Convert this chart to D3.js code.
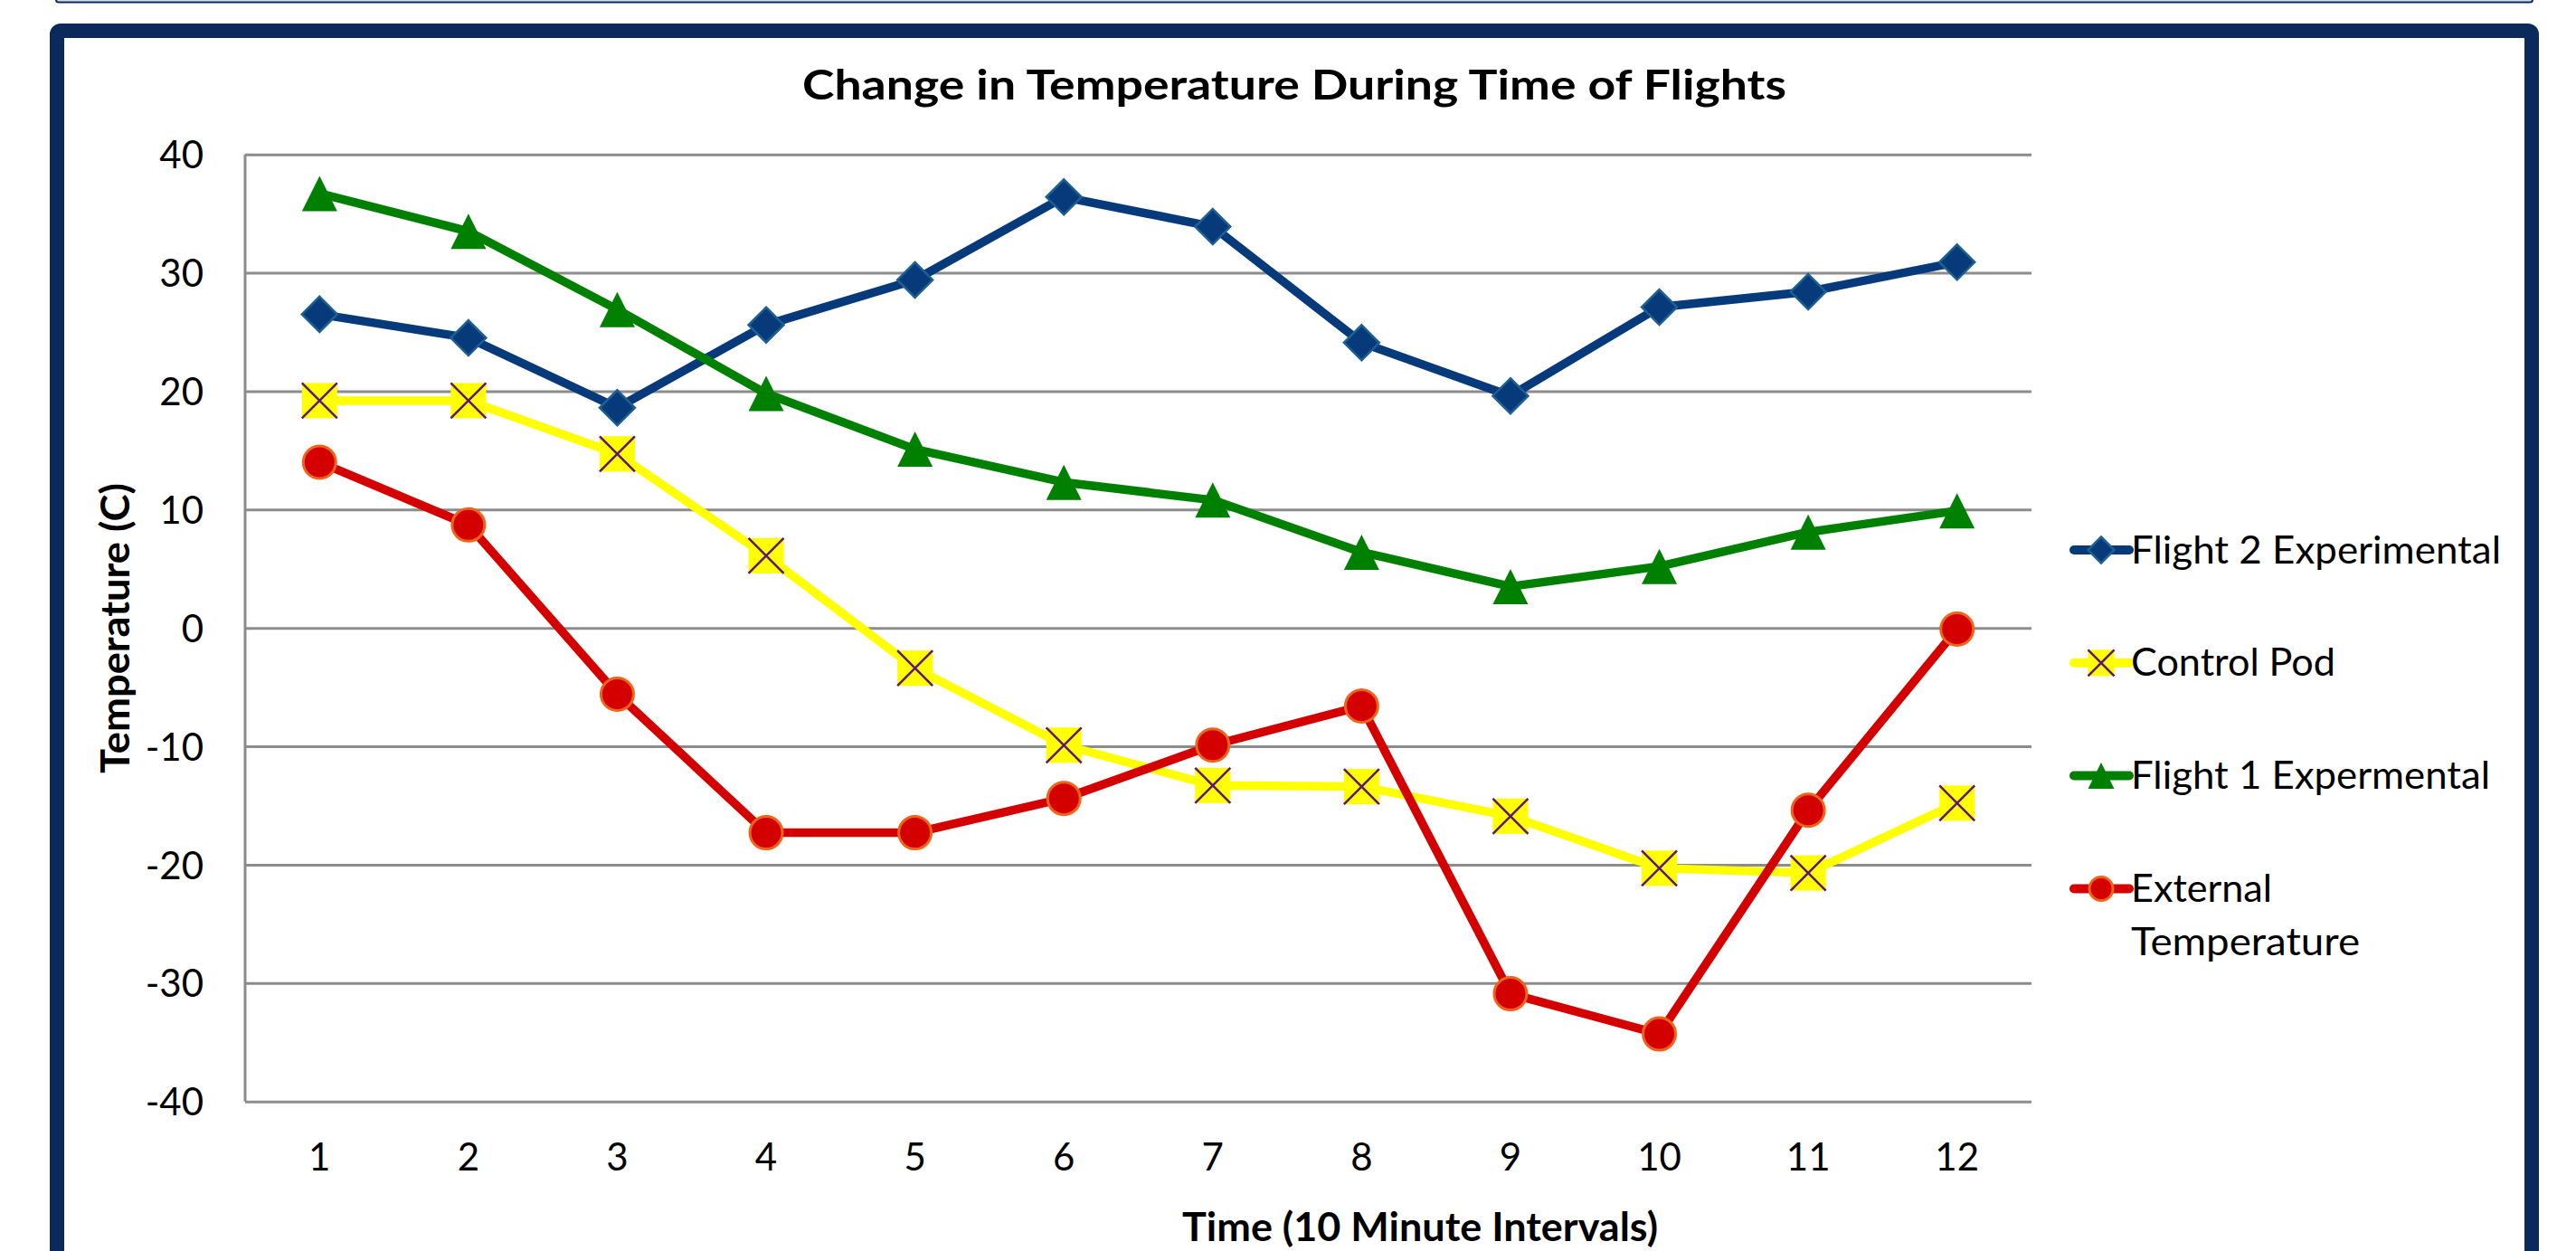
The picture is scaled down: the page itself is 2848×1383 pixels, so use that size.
<!DOCTYPE html>
<html><head><meta charset="utf-8">
<script src="https://cdn.jsdelivr.net/npm/d3@7"></script>
<style>
body{margin:0;background:#fff}
svg{display:block}
text{font-family:Lato,"Open Sans",sans-serif;fill:#000}
</style>
</head><body>
<svg id="chart" width="2848" height="1383"></svg>
<script>
// ---------- data ----------
const categories = ["1","2","3","4","5","6","7","8","9","10","11","12"];
const yTickValues = [-40,-30,-20,-10,0,10,20,30,40];
const flight2Experimental = [26.5,24.5,18.6,25.6,29.4,36.4,33.9,24.1,19.6,27.1,28.4,30.9];
const controlPod          = [19.2,19.2,14.7,6.1,-3.4,-9.9,-13.3,-13.4,-15.9,-20.3,-20.7,-14.8];
const flight1Expermental  = [36.7,33.5,26.9,19.8,15.1,12.3,10.8,6.4,3.5,5.2,8.1,9.9];
const externalTemperature = [14.0,8.7,-5.6,-17.3,-17.3,-14.4,-9.9,-6.6,-30.9,-34.3,-15.4,-0.1];
const seriesLabels = [["Flight 2 Experimental"],["Control Pod"],["Flight 1 Expermental"],["External","Temperature"]];
const chartTitle = "Change in Temperature During Time of Flights";
const xTitle = "Time (10 Minute Intervals)";
const yTitle = "Temperature (C)";

// ---------- styles ----------
const series = [
  {values: flight2Experimental, line:"#073a7b", marker:"diamond", fill:"#073a7b", stroke:"#1d6192"},
  {values: controlPod,          line:"#ffff00", marker:"x",       fill:"#ffff00", stroke:"#5e1478"},
  {values: flight1Expermental,  line:"#008000", marker:"triangle",fill:"#008000", stroke:"#008000"},
  {values: externalTemperature, line:"#d40000", marker:"circle",  fill:"#d40000", stroke:"#ee6418"}
];

const svg = d3.select("#chart");
const W = 2848, H = 1383;
svg.append("rect").attr("width",W).attr("height",H).attr("fill","#fff");

// top strip (previous box edge) and main frame
svg.append("rect").attr("x",62).attr("y",-20).attr("width",2738).attr("height",22.5)
  .attr("rx",3).attr("fill","#d6dde8").attr("stroke","#0b2a5b").attr("stroke-width",2);
svg.append("rect").attr("x",63).attr("y",34).attr("width",2736).attr("height",1500)
  .attr("rx",4).attr("fill","#fff").attr("stroke","#0b2a5b").attr("stroke-width",16);

const plot = {left:271, right:2246, top:170.7, bottom:1217.7};
const x = d3.scaleBand().domain(categories).range([plot.left, plot.right]);
const y = d3.scaleLinear().domain([-40,40]).range([plot.bottom, plot.top]);
const cx = (i) => x(categories[i]) + x.bandwidth()/2;

// gridlines + y axis
const yAxis = d3.axisLeft(y).tickValues(yTickValues).tickSize(-(plot.right-plot.left)).tickPadding(46).tickFormat(d => String(d));
const gy = svg.append("g").attr("transform",`translate(${plot.left},0)`).call(yAxis);
gy.selectAll(".tick line").attr("stroke","#8c8c8c").attr("stroke-width",3);
gy.select(".domain").attr("stroke","#8c8c8c").attr("stroke-width",3).attr("d",`M0,${plot.top}V${plot.bottom}`);
gy.selectAll(".tick text").attr("font-size",42).attr("font-family","Lato").attr("fill","#000").attr("dy","0.36em");

// x axis labels
const xAxis = d3.axisBottom(x).tickSize(0).tickPadding(0);
const gx = svg.append("g").attr("transform",`translate(0,${plot.bottom})`).call(xAxis);
gx.select(".domain").remove();
gx.selectAll(".tick text").attr("font-size",42).attr("font-family","Lato").attr("fill","#000")
  .attr("y",61).attr("dy","0.36em");

// lines
const lineGen = d3.line().x((d,i)=>cx(i)).y(d=>y(d));
series.forEach(s=>{
  svg.append("path").datum(s.values).attr("d",lineGen).attr("fill","none")
    .attr("stroke",s.line).attr("stroke-width",9.5).attr("stroke-linejoin","round");
});

// markers
function drawMarker(g, type, px, py, size, s){
  const h = size/2;
  if(type==="diamond"){
    g.append("path").attr("d",`M${px},${py-h}L${px+h},${py}L${px},${py+h}L${px-h},${py}Z`)
      .attr("fill",s.fill).attr("stroke",s.stroke).attr("stroke-width",2.5);
  } else if(type==="x"){
    g.append("rect").attr("x",px-h).attr("y",py-h).attr("width",size).attr("height",size).attr("fill",s.fill);
    g.append("path").attr("d",`M${px-h},${py-h}L${px+h},${py+h}M${px+h},${py-h}L${px-h},${py+h}`)
      .attr("stroke",s.stroke).attr("stroke-width",2.5).attr("fill","none");
  } else if(type==="triangle"){
    g.append("path").attr("d",`M${px},${py-h}L${px+h},${py+h}L${px-h},${py+h}Z`).attr("fill",s.fill);
  } else {
    g.append("circle").attr("cx",px).attr("cy",py).attr("r",h-1.5)
      .attr("fill",s.fill).attr("stroke",s.stroke).attr("stroke-width",3);
  }
}
const gm = svg.append("g");
series.forEach(s=>{
  s.values.forEach((v,i)=>drawMarker(gm, s.marker, cx(i), y(v), 39, s));
});

// legend
const legendBaselines = [622.5, 747.3, 872, 997];
const legendLineGap = 58.7;
const legendTextLengths = [[409],[226],[397],[156,253]];
const gl = svg.append("g");
series.forEach((s,k)=>{
  const by = legendBaselines[k];
  const my = by - 14.5;
  gl.append("line").attr("x1",2293).attr("x2",2354).attr("y1",my).attr("y2",my)
    .attr("stroke",s.line).attr("stroke-width",10).attr("stroke-linecap","round");
  drawMarker(gl, s.marker, 2323, my, 29, s);
  seriesLabels[k].forEach((t,j)=>{
    gl.append("text").attr("x",2356).attr("y",by + j*legendLineGap).attr("font-size",42)
      .attr("textLength",legendTextLengths[k][j]).attr("lengthAdjust","spacingAndGlyphs").text(t);
  });
});

// titles
svg.append("text").attr("x",1431).attr("y",110).attr("text-anchor","middle")
  .attr("font-size",46).attr("font-weight","bold")
  .attr("textLength",1088).attr("lengthAdjust","spacingAndGlyphs").text(chartTitle);
svg.append("text").attr("x",1570).attr("y",1372).attr("text-anchor","middle")
  .attr("font-size",43).attr("font-weight","bold")
  .attr("textLength",526).attr("lengthAdjust","spacingAndGlyphs").text(xTitle);
svg.append("text").attr("transform","translate(143,694.5) rotate(-90)").attr("text-anchor","middle")
  .attr("font-size",43).attr("font-weight","bold")
  .attr("textLength",321).attr("lengthAdjust","spacingAndGlyphs").text(yTitle);
</script>
</body></html>
